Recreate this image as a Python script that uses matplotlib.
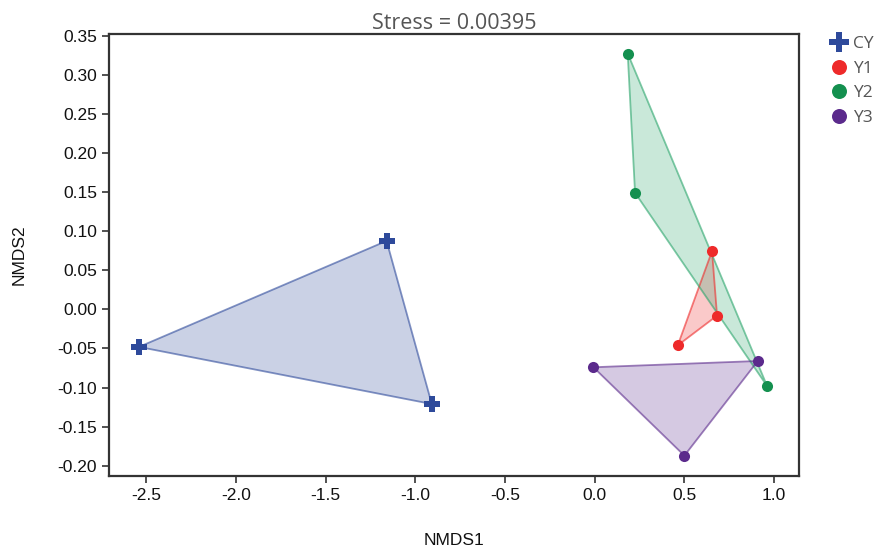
import matplotlib
matplotlib.use("Agg")
import matplotlib.pyplot as plt
from matplotlib.patches import Polygon

groups = ["CY", "Y1", "Y2", "Y3"]
cy_x = [-2.54, -1.16, -0.908]
cy_y = [-0.048, 0.0875, -0.121]
y1_x = [0.654, 0.682, 0.463]
y1_y = [0.0744, -0.008, -0.046]
y2_x = [0.184, 0.225, 0.961]
y2_y = [0.327, 0.149, -0.098]
y3_x = [-0.007, 0.909, 0.500]
y3_y = [-0.074, -0.066, -0.187]
stress = 0.00395

xs = [cy_x, y1_x, y2_x, y3_x]
ys = [cy_y, y1_y, y2_y, y3_y]
colors = ["#2E4A9B", "#EE2A2A", "#14904F", "#5B2A8C"]
fills = ["#2E4A9B", "#EE2A2A", "#2AA56B", "#5B2A8C"]
markers = ["P", "o", "o", "o"]
msizes = [11, 8, 8, 8]

fig = plt.figure(figsize=(8.8, 5.52), dpi=100)
ax = fig.add_axes([0.1239, 0.1377, 0.7841, 0.8007])

for g, x, y, c, f, m, ms in zip(groups, xs, ys, colors, fills, markers, msizes):
    pts = list(zip(x, y))
    ax.add_patch(Polygon(pts, closed=True, facecolor=f, alpha=0.25, edgecolor="none", zorder=1))
    ax.add_patch(Polygon(pts, closed=True, facecolor="none", edgecolor=f, alpha=0.6, lw=1.3, zorder=2))
    ax.plot(x, y, linestyle="none", marker=m, color=c, markersize=ms, markeredgewidth=0, label=g, zorder=3)

ax.set_xlim(-2.707, 1.139)
ax.set_ylim(-0.213, 0.352)
ax.set_xticks([-2.5, -2.0, -1.5, -1.0, -0.5, 0.0, 0.5, 1.0])
ax.set_xticklabels(["-2.5", "-2.0", "-1.5", "-1.0", "-0.5", "0.0", "0.5", "1.0"])
yt = [-0.20, -0.15, -0.10, -0.05, 0.00, 0.05, 0.10, 0.15, 0.20, 0.25, 0.30, 0.35]
ax.set_yticks(yt)
ax.set_yticklabels([f"{v:.2f}" for v in yt])

for s in ax.spines.values():
    s.set_linewidth(1.6)
    s.set_color("#333333")
ax.tick_params(direction="out", length=5, width=1.2, color="#333333",
               labelsize=12.5, labelcolor="#111111")
for lab in ax.get_xticklabels() + ax.get_yticklabels():
    lab.set_family("Liberation Sans")

ax.set_xlabel("NMDS1", fontsize=12.5, family="Liberation Sans", color="#111111", labelpad=22)
ax.set_ylabel("NMDS2", fontsize=12.5, family="Liberation Sans", color="#111111", labelpad=22)
ax.set_title(f"Stress = {stress}", fontsize=15.5, family="Open Sans", color="#555555", pad=3)

leg = ax.legend(loc="upper left", bbox_to_anchor=(1.035, 1.012), frameon=False,
                markerscale=1.35, handletextpad=0.3, labelspacing=0.5,
                prop={"family": "Open Sans", "size": 12.5}, handlelength=1.0,
                borderaxespad=0)
for t in leg.get_texts():
    t.set_color("#555555")

fig.savefig("out.png", dpi=100)
